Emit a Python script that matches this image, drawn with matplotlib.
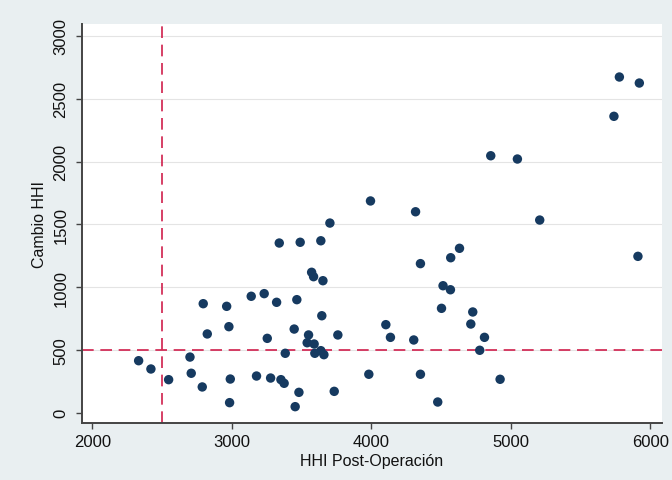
import numpy as np
import matplotlib
matplotlib.use("Agg")
import matplotlib.pyplot as plt

plt.rcParams['font.family'] = ['Liberation Sans', 'DejaVu Sans']

# HHI post-operación (eje x) y cambio en el HHI (eje y)
hhi_post = [2332, 2420, 2547, 2700, 2709, 2788, 2795, 2824, 2963, 2979,
            2989, 2984, 3139, 3177, 3232, 3254, 3278, 3321, 3340, 3352,
            3375, 3383, 3447, 3466, 3481, 3454, 3490, 3550, 3540, 3572,
            3586, 3590, 3595, 3638, 3645, 3653, 3638, 3660, 3734, 3760,
            3703, 3982, 4104, 4137, 4304, 4352, 4352, 4476, 4503, 4514,
            4567, 4569, 4632, 4713, 4727, 4777, 4811, 4923, 5911, 3994,
            4317, 4856, 5047, 5207, 5739, 5778, 5921]
cambio_hhi = [414, 348, 263, 443, 314, 205, 868, 627, 847, 685,
              268, 80, 927, 292, 948, 592, 276, 879, 1351, 263,
              234, 473, 666, 900, 162, 48, 1357, 619, 557, 1118,
              1083, 547, 473, 1369, 772, 1051, 494, 462, 170, 619,
              1510, 306, 701, 600, 579, 1187, 306, 85, 831, 1011,
              979, 1234, 1309, 706, 802, 497, 600, 266, 1245, 1686,
              1600, 2046, 2020, 1534, 2360, 2673, 2625]

umbral_x = 2500
umbral_y = 500
xticks = [2000, 3000, 4000, 5000, 6000]
yticks = [0, 500, 1000, 1500, 2000, 2500, 3000]

fig = plt.figure(figsize=(6.72, 4.81), dpi=100, facecolor='#e9eff1')
ax = fig.add_axes([0.1216, 0.118, 0.863, 0.83])
ax.set_facecolor('white')

for t in yticks[1:]:
    ax.axhline(t, color='#e4e4e4', lw=0.8, zorder=0)

ax.axvline(umbral_x, color='#d01f4c', lw=1.2, dashes=(7, 4), zorder=1)
ax.axhline(umbral_y, color='#d01f4c', lw=1.2, dashes=(7, 4), zorder=1)

ax.scatter(hhi_post, cambio_hhi, s=46, color='#163a60', edgecolors='none', zorder=3)

ax.set_xlim(1924, 6081)
ax.set_ylim(-84, 3095)
ax.set_xticks(xticks)
ax.set_yticks(yticks)
ax.set_yticklabels([str(t) for t in yticks], rotation=90, va='center')

for s in ['top', 'right']:
    ax.spines[s].set_visible(False)
for s in ['left', 'bottom']:
    ax.spines[s].set_color('#444444')
    ax.spines[s].set_linewidth(1.4)

ax.tick_params(axis='both', direction='out', length=4.5, width=1.0,
               color='#444444', labelsize=12, labelcolor='#111111')
ax.tick_params(axis='x', pad=3)
ax.tick_params(axis='y', pad=5)

ax.set_xlabel('HHI Post-Operación', fontsize=11.5, color='#111111', labelpad=3)
ax.set_ylabel('Cambio HHI', fontsize=11.5, color='#111111', labelpad=5)

fig.savefig('out.png', dpi=100, facecolor=fig.get_facecolor())
